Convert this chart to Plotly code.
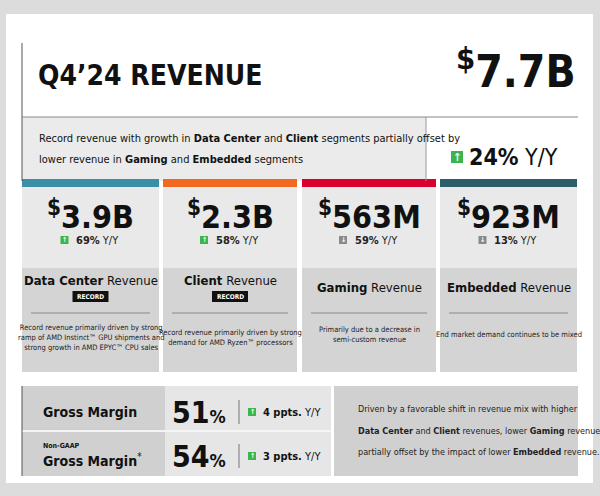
import plotly.graph_objects as go

# ---- data ----
title = "Q4’24 REVENUE"
total_revenue = "$7.7B"
total_yoy = "24%"
segments = ["Data Center", "Client", "Gaming", "Embedded"]
seg_values = ["3.9B", "2.3B", "563M", "923M"]
seg_yoy = ["69%", "58%", "59%", "13%"]
seg_up = [True, True, False, False]
seg_record = [True, True, False, False]
seg_desc = [
    "Record revenue primarily driven by strong<br>ramp of AMD Instinct™ GPU shipments and<br>strong growth in AMD EPYC™ CPU sales",
    "Record revenue primarily driven by strong<br>demand for AMD Ryzen™ processors",
    "Primarily due to a decrease in<br>semi-custom revenue",
    "End market demand continues to be mixed",
]
margin_labels = ["Gross Margin", "Gross Margin*"]
margin_values = ["51", "54"]
margin_change = ["4 ppts.", "3 ppts."]

seg_colors = ["#3a8ea6", "#f26a22", "#d9002f", "#2c5d69"]
F = "Liberation Sans Narrow, DejaVu Sans Condensed, Roboto, sans-serif"
GREEN = "#3cb54a"
GREY_ARROW = "#8a8a8a"

shapes, ann = [], []
def rect(x0, y0, x1, y1, color):
    shapes.append(dict(type="rect", x0=x0, y0=y0, x1=x1, y1=y1, fillcolor=color,
                       line=dict(width=0), layer="below"))
def line(x0, y0, x1, y1, color, w=1):
    shapes.append(dict(type="line", x0=x0, y0=y0, x1=x1, y1=y1, line=dict(color=color, width=w)))
def text(x, y, t, size, color="#111", xa="left", bold=False):
    if bold:
        t = "<b>" + t + "</b>"
    ann.append(dict(x=x, y=y, text=t, showarrow=False, xanchor=xa, yanchor="middle",
                    font=dict(family=F, size=size, color=color),
                    align="center" if xa == "center" else "left"))
def arrow(x, y, up, s=9):
    rect(x, y - s / 2, x + s, y + s / 2, GREEN if up else GREY_ARROW)
    text(x + s / 2, y, "↑" if up else "↓", s - 1, "white", "center", True)

# background
rect(0, 0, 600, 496, "#dcdcdc")
rect(6, 14, 593, 483, "#ffffff")

# header
line(22, 43, 22, 181, "#555", 1)
text(36, 75, title, 28, "#111", bold=True)
text(578, 68, "<sup>$</sup>" + total_revenue[1:], 44, "#111", "right", True)
line(22, 117, 578, 117, "#888", 1)
rect(22, 117, 426, 181, "#ebebeb")
line(426, 117, 426, 181, "#999", 1)
text(37, 138, "Record revenue with growth in <b>Data Center</b> and <b>Client</b> segments partially offset by", 11)
text(37, 159, "lower revenue in <b>Gaming</b> and <b>Embedded</b> segments", 11)
arrow(451, 157, True, 12)
text(467, 157, "<b>" + total_yoy + "</b> Y/Y", 23)

# segment cards
xs = [(22, 159), (163, 297), (302, 436), (440, 577)]
for i, (x0, x1) in enumerate(xs):
    cx = (x0 + x1) / 2
    rect(x0, 179, x1, 187, seg_colors[i])
    rect(x0, 187, x1, 268, "#e9e9e9")
    rect(x0, 268, x1, 372, "#d4d4d4")
    text(cx, 215, "<sup>$</sup>" + seg_values[i], 32, "#111", "center", True)
    text(cx + 7, 240, "<b>" + seg_yoy[i] + "</b> Y/Y", 11, "#222", "center")
    arrow(cx - 30, 240, seg_up[i], 8)
    ny = 280 if seg_record[i] else 287
    text(cx, ny, "<b>" + segments[i] + "</b> Revenue", 13, "#111", "center")
    if seg_record[i]:
        rect(cx - 18, 291, cx + 18, 302, "#111")
        text(cx, 296.5, "RECORD", 6.5, "white", "center", True)
    line(x0 + 9, 313, x1 - 9, 313, "#888", 1)
    text(cx, 337 if seg_record[i] else 334, seg_desc[i], 7.5, "#222", "center")

# margins
rect(22, 386, 165, 476, "#d0d0d0")
rect(165, 386, 331, 476, "#e6e6e6")
line(22, 431, 331, 431, "#f4f4f4", 2)
line(22, 386, 22, 476, "#555", 1)
rect(334, 386, 578, 476, "#d0d0d0")
ys = [412, 456]
for j in range(2):
    y = ys[j]
    if j == 0:
        text(41, y, margin_labels[j], 14, "#111", bold=True)
    else:
        text(41, 446, "Non-GAAP", 7, "#111", bold=True)
        text(41, 460, "<b>Gross Margin</b><sup>*</sup>", 14, "#111")
    text(228, y, "<b>" + margin_values[j] + "</b><span style='font-size:18px'><b>%</b></span>", 30, "#111", "right")
    line(239, y - 12, 239, y + 12, "#777", 1)
    arrow(248, y, True, 8)
    text(261, y, "<b>" + margin_change[j] + "</b> Y/Y", 11, "#111")
text(356, 409, "Driven by a favorable shift in revenue mix with higher", 9, "#222")
text(356, 431, "<b>Data Center</b> and <b>Client</b> revenues, lower <b>Gaming</b> revenue,", 9, "#222")
text(356, 452, "partially offset by the impact of lower <b>Embedded</b> revenue.", 9, "#222")

fig = go.Figure()
fig.update_layout(
    width=600, height=496, margin=dict(l=0, r=0, t=0, b=0),
    paper_bgcolor="#dcdcdc", plot_bgcolor="#dcdcdc", showlegend=False,
    xaxis=dict(range=[0, 600], visible=False, fixedrange=True),
    yaxis=dict(range=[496, 0], visible=False, fixedrange=True),
    shapes=shapes, annotations=ann,
)
fig.write_html("out.html", config={"displayModeBar": False},
               post_script="document.body.style.margin='0';document.body.style.overflow='hidden';")
